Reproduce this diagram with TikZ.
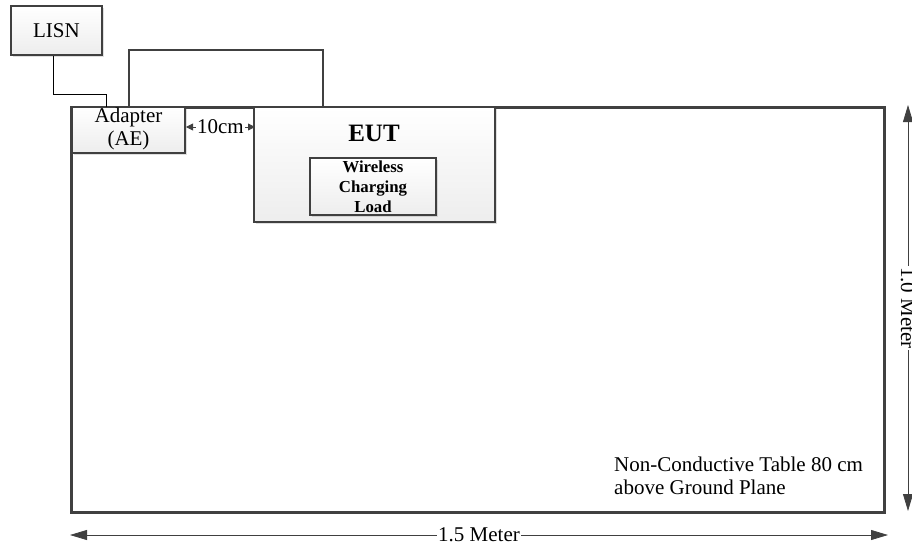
\documentclass[tikz,border=0pt]{standalone}
\usepackage{fontspec}
\setmainfont{Liberation Serif}
\usetikzlibrary{arrows.meta,shadows,calc}
\definecolor{edge}{HTML}{404040}
\begin{document}
\begin{tikzpicture}[x=1pt,y=-1pt,
  boxstyle/.style={draw=edge,line width=2pt,rectangle,inner sep=0pt,
    top color=white,bottom color=gray!14,
    drop shadow={opacity=0.25,shadow xshift=2pt,shadow yshift=-2pt}},
  wire/.style={draw=black,line width=1pt},
  dimline/.style={draw=edge,line width=0.8pt,{Triangle[length=17pt,width=10pt]}-{Triangle[length=17pt,width=10pt]}},
  txt/.style={font=\fontsize{21}{23}\selectfont}
]
\useasboundingbox (0,0) rectangle (912,549);
% table
\node[draw=edge,line width=3pt,fill=white,minimum width=813pt,minimum height=405pt,inner sep=0pt,
  drop shadow={opacity=0.2,shadow xshift=2pt,shadow yshift=-2pt}] (table) at (477.5,309.5) {};
% LISN
\node[boxstyle,minimum width=91pt,minimum height=49pt,txt] (lisn) at (56.5,30.5) {LISN};
% adapter
\node[boxstyle,minimum width=113pt,minimum height=46pt] (adapter) at (128.5,130) {};
\node[txt,align=center,inner sep=0pt] (adlabel) at (128.5,129) {Adapter\\(AE)};
% EUT
\node[boxstyle,minimum width=241pt,minimum height=115pt] (eut) at (374.5,164.5) {};
\node[font=\fontsize{25}{27}\selectfont\bfseries,inner sep=0pt] (eutlabel) at (374,133) {EUT};
\node[boxstyle,minimum width=126pt,minimum height=57pt,align=center,
  font=\fontsize{16.8}{20}\selectfont\bfseries] (wcl) at (373,186.5) {Wireless\\Charging\\Load};
% wires
\coordinate (w1) at ($(lisn.south)+(-3.5,0)$);
\coordinate (w2) at (106,107);
\draw[wire] (w1) |- ($(w2)+(0,-13)$) -- (w2);
\coordinate (l1) at (129,107);
\coordinate (l2) at (323,107);
\draw[wire,draw=edge,line width=1.5pt] (l1) -- (129,50) -- (323,50) -- (l2);
% 10cm
\coordinate (a1) at ($(adapter.east)+(0,-3)$);
\coordinate (a2) at ($(adapter.east)+(69,-3)$);
\draw[edge,line width=0.8pt,{Triangle[length=7pt,width=7pt]}-{Triangle[length=7pt,width=7pt]}] (a1) -- node[fill=white,inner sep=1pt,txt,text=black] (tencm) {10cm} (a2);
% dimension arrows
\coordinate (h1) at (70,535);
\coordinate (h2) at (888,535);
\draw[dimline] (h1) -- node[fill=white,inner sep=1pt,txt,text=black] (hlabel) {1.5 Meter} (h2);
\coordinate (v1) at (908,105);
\coordinate (v2) at (908,511);
\draw[dimline] (v1) -- node[fill=white,inner sep=1pt,txt,text=black,rotate=-90] (vlabel) {1.0 Meter} (v2);
% table note
\node[txt,align=left,anchor=north west,inner sep=0pt] (note) at (614,457) {Non-Conductive Table 80 cm\\above Ground Plane};
\end{tikzpicture}
\end{document}
